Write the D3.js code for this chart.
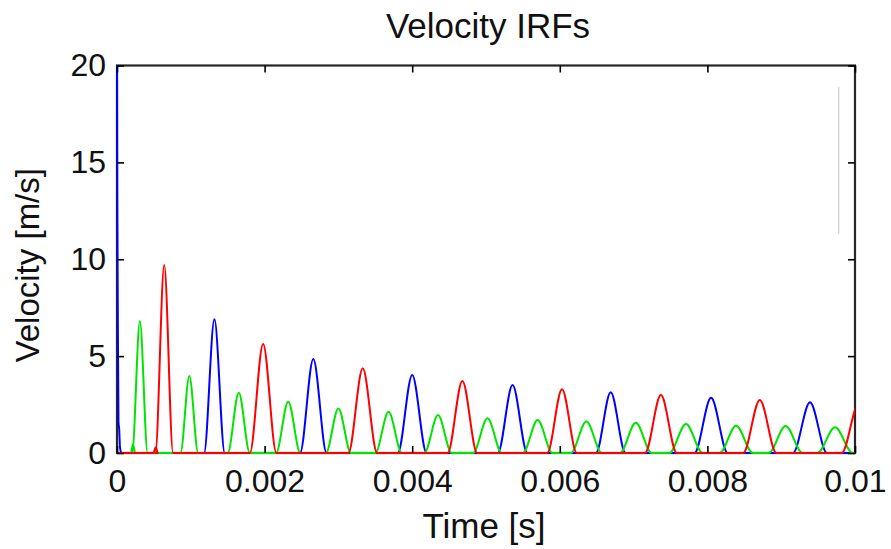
<!DOCTYPE html>
<html>
<head>
<meta charset="utf-8">
<script src="https://cdn.jsdelivr.net/npm/d3@7"></script>
<style>
  html, body { margin: 0; padding: 0; background: #fff; }
  svg { display: block; font-family: "Liberation Sans", Arial, sans-serif; }
</style>
</head>
<body>
<div id="chart"></div>
<script>
/* Velocity IRFs — three impulse response traces (blue, green, red).
   Each trace is a train of pulses; pulses are read off the picture as
   (peak time, peak velocity, base width). */

var xTicks = [0, 0.002, 0.004, 0.006, 0.008, 0.01];
var xTickLabels = ['0', '0.002', '0.004', '0.006', '0.008', '0.01'];
var yTicks = [0, 5, 10, 15, 20];

/* initial blue spike at t = 0, samples */
var blueSpikeT = [0, 0.000005, 0.00001, 0.00002, 0.00003, 0.00004, 0.00006];
var blueSpikeV = [20, 12, 7.9, 1.6, 1.2, 0.3, 0];

var blueT = [0.00132, 0.00266, 0.00400, 0.00536, 0.00669, 0.00805, 0.00939];
var blueV = [6.9, 4.85, 4.03, 3.51, 3.13, 2.85, 2.62];
var blueW = [0.00028, 0.00036, 0.00039, 0.00040, 0.00040, 0.00045, 0.00046];

var greenT = [0.000217, 0.00031, 0.00098, 0.00165, 0.00232, 0.00300, 0.00368, 0.00435,
              0.00502, 0.00570, 0.00636, 0.00703, 0.00771, 0.00839, 0.00906, 0.00973];
var greenV = [0.45, 6.8, 3.97, 3.11, 2.65, 2.3, 2.13, 1.96, 1.79, 1.7, 1.62, 1.56, 1.5, 1.41, 1.39, 1.33];
var greenW = [0.00006, 0.00021, 0.00024, 0.00030, 0.00033, 0.00034, 0.00036, 0.00037,
              0.00039, 0.00040, 0.00042, 0.00043, 0.00045, 0.00045, 0.00046, 0.00048];

var redT = [0.000524, 0.00064, 0.00198, 0.00333, 0.00468, 0.00603, 0.00737, 0.00871, 0.01005];
var redV = [0.3, 9.7, 5.63, 4.37, 3.72, 3.29, 2.99, 2.74, 2.55];
var redW = [0.00006, 0.00024, 0.00036, 0.00039, 0.00040, 0.00040, 0.00043, 0.00045, 0.00046];

(function () {
  var W = 891, H = 549;
  var margin = { top: 65.5, right: 36, bottom: 96, left: 117 };
  var iw = W - margin.left - margin.right;
  var ih = H - margin.top - margin.bottom;

  var svg = d3.select('#chart').append('svg')
    .attr('width', W).attr('height', H);

  var x = d3.scaleLinear().domain([0, 0.01]).range([0, iw]);
  var y = d3.scaleLinear().domain([0, 20]).range([ih, 0]);

  var g = svg.append('g')
    .attr('transform', 'translate(' + margin.left + ',' + margin.top + ')');

  /* title */
  svg.append('text')
    .attr('x', margin.left + iw / 2 + 2).attr('y', 38)
    .attr('text-anchor', 'middle')
    .style('font-size', '35px').style('fill', '#111')
    .text('Velocity IRFs');

  /* box */
  g.append('rect')
    .attr('x', 0).attr('y', 0).attr('width', iw).attr('height', ih)
    .attr('fill', 'none').attr('stroke', '#262626').attr('stroke-width', 2.2);

  /* stray light line inside the axes (present in the picture) */
  g.append('line')
    .attr('x1', x(0.00978)).attr('x2', x(0.00978))
    .attr('y1', y(18.9)).attr('y2', y(11.3))
    .attr('stroke', '#c4c4c4').attr('stroke-width', 1);

  /* clip to the axes */
  svg.append('defs').append('clipPath').attr('id', 'plot-clip')
    .append('rect').attr('x', -2).attr('y', -2).attr('width', iw + 2).attr('height', ih + 4);

  function pulsePoints(T, V, Wd, lead) {
    var pts = lead ? lead.slice() : [[0, 0]];
    T.forEach(function (t, i) {
      pts.push([t - Wd[i] / 2, 0]);
      pts.push([t, V[i]]);
      pts.push([t + Wd[i] / 2, 0]);
    });
    var last = pts[pts.length - 1][0];
    pts.push([Math.max(last, 0.0104), 0]);
    return pts;
  }

  var blueLead = blueSpikeT.map(function (t, i) { return [t, blueSpikeV[i]]; });
  var series = [
    { color: '#0000ff', pts: pulsePoints(blueT, blueV, blueW, blueLead) },
    { color: '#00e400', pts: pulsePoints(greenT, greenV, greenW) },
    { color: '#ff0000', pts: pulsePoints(redT, redV, redW) }
  ];

  var line = d3.line()
    .x(function (d) { return x(d[0]); })
    .y(function (d) { return y(d[1]); })
    .curve(d3.curveMonotoneX);

  var lines = g.append('g').attr('clip-path', 'url(#plot-clip)');
  series.forEach(function (s) {
    lines.append('path')
      .datum(s.pts)
      .attr('d', line)
      .attr('fill', 'none')
      .attr('stroke', s.color)
      .attr('stroke-width', 2)
      .attr('stroke-linejoin', 'round');
  });

  /* ticks (inside, on all four sides) and labels */
  var tickLen = 7;
  var xAx = g.append('g').attr('transform', 'translate(0,' + ih + ')')
    .call(d3.axisBottom(x).tickValues(xTicks).tickSizeInner(-tickLen).tickSizeOuter(0).tickPadding(16)
      .tickFormat(function (d, i) { return xTickLabels[i]; }));
  var xTop = g.append('g')
    .call(d3.axisTop(x).tickValues(xTicks).tickSizeInner(-tickLen).tickSizeOuter(0).tickFormat(''));
  var yAx = g.append('g')
    .call(d3.axisLeft(y).tickValues(yTicks).tickSizeInner(-tickLen).tickSizeOuter(0).tickPadding(11));
  var yRight = g.append('g').attr('transform', 'translate(' + iw + ',0)')
    .call(d3.axisRight(y).tickValues(yTicks).tickSizeInner(-tickLen).tickSizeOuter(0).tickFormat(''));

  [xAx, xTop, yAx, yRight].forEach(function (a) {
    a.select('.domain').remove();
    a.selectAll('.tick line').attr('stroke', '#000').attr('stroke-width', 1.6);
    a.selectAll('.tick text')
      .style('font-family', '"Liberation Sans", Arial, sans-serif')
      .style('font-size', '32px').style('fill', '#111');
  });
  xAx.selectAll('.tick text').attr('dy', '0.71em');

  /* axis labels */
  svg.append('text')
    .attr('x', margin.left + iw / 2 - 2).attr('y', 538)
    .attr('text-anchor', 'middle')
    .style('font-size', '35px').style('fill', '#111')
    .text('Time [s]');

  svg.append('text')
    .attr('transform', 'translate(39,' + (margin.top + ih / 2 + 6) + ') rotate(-90)')
    .attr('text-anchor', 'middle')
    .style('font-size', '33px').style('fill', '#111')
    .text('Velocity [m/s]');
})();
</script>
</body>
</html>
